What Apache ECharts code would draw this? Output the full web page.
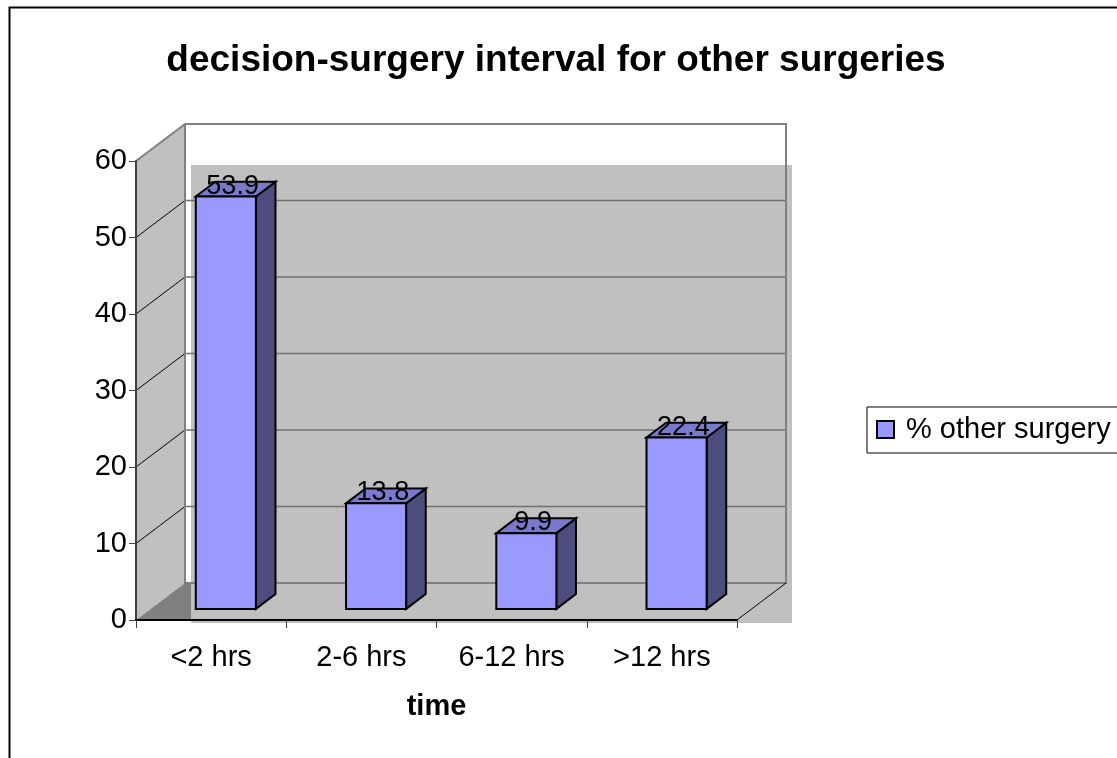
<!DOCTYPE html>
<html>
<head>
<meta charset="utf-8">
<script src="https://cdn.jsdelivr.net/npm/echarts@6/dist/echarts.min.js"></script>
<style>
  html, body { margin: 0; padding: 0; background: #fff; }
  #chart { width: 1117px; height: 758px; }
</style>
</head>
<body>
<div id="chart"></div>
<script>
// ---- data ----
const titleText = 'decision-surgery interval for other surgeries';
const categories = ['<2 hrs', '2-6 hrs', '6-12 hrs', '>12 hrs'];
const seriesName = '% other surgery';
const values = [53.9, 13.8, 9.9, 22.4];
const yMin = 0, yMax = 60, yInterval = 10;
const xAxisName = 'time';

// ---- style constants (3D look) ----
const FONT = "'Liberation Sans', Arial, sans-serif";
const DEPTH = [49, -37];       // oblique depth vector, px
const F1 = 0.30, F2 = 0.70;    // bar front/back depth fractions
const BAR_FRAC = 0.4;          // bar width as fraction of band
const FRONT = '#9999ff', TOPC = '#7a7acc', SIDE = '#4d4d80';

const chart = echarts.init(document.getElementById('chart'), null, { renderer: 'canvas' });

function renderWalls(params, api) {
  const bw = api.size([1, 0])[0];
  const p0 = api.coord([0, yMin]);
  const p3 = api.coord([categories.length - 1, yMin]);
  const x0 = p0[0] - bw / 2, x1 = p3[0] + bw / 2;
  const yB = p0[1], yT = api.coord([0, yMax])[1];
  const dx = DEPTH[0], dy = DEPTH[1];
  const ch = [];
  // side wall
  ch.push({ type: 'polygon', shape: { points: [[x0, yB], [x0, yT], [x0 + dx, yT + dy], [x0 + dx, yB + dy]] },
    style: { fill: '#c0c0c0', stroke: null } });
  // back wall
  ch.push({ type: 'rect', shape: { x: x0 + dx, y: yT + dy, width: x1 - x0, height: yB - yT },
    style: { fill: '#ffffff', stroke: null } });
  // floor
  ch.push({ type: 'polygon', shape: { points: [[x0, yB], [x1, yB], [x1 + dx, yB + dy], [x0 + dx, yB + dy]] },
    style: { fill: '#808080', stroke: null } });
  // plot-area fill (offset, as in the original)
  ch.push({ type: 'rect', shape: { x: x0 + dx + 6, y: yT + 4, width: x1 - x0, height: yB - yT - 1 },
    style: { fill: '#c0c0c0', stroke: null } });
  // back wall gridlines and side wall gridlines
  for (let v = yMin + yInterval; v < yMax; v += yInterval) {
    const y = api.coord([0, v])[1];
    ch.push({ type: 'line', shape: { x1: x0 + dx, y1: y + dy, x2: x1 + dx, y2: y + dy },
      style: { stroke: '#707070', lineWidth: 1.5 } });
    ch.push({ type: 'line', shape: { x1: x0, y1: y, x2: x0 + dx, y2: y + dy },
      style: { stroke: '#000', lineWidth: 1 } });
  }
  // back wall outline
  ch.push({ type: 'rect', shape: { x: x0 + dx, y: yT + dy, width: x1 - x0, height: yB - yT },
    style: { fill: null, stroke: '#808080', lineWidth: 2 } });
  // side wall top edge
  ch.push({ type: 'line', shape: { x1: x0, y1: yT, x2: x0 + dx, y2: yT + dy },
    style: { stroke: '#808080', lineWidth: 2 } });
  // floor right diagonal
  ch.push({ type: 'line', shape: { x1: x1, y1: yB, x2: x1 + dx, y2: yB + dy },
    style: { stroke: '#000', lineWidth: 1 } });
  return { type: 'group', children: ch };
}

function renderBar(params, api) {
  const ci = api.value(0), v = api.value(1);
  const bw = api.size([1, 0])[0];
  const b = api.coord([ci, yMin]), t = api.coord([ci, v]);
  const half = bw * BAR_FRAC / 2;
  const ox1 = DEPTH[0] * F1, oy1 = DEPTH[1] * F1;
  const ddx = DEPTH[0] * (F2 - F1), ddy = DEPTH[1] * (F2 - F1);
  const L = b[0] - half + ox1, R = b[0] + half + ox1, T = t[1] + oy1, B = b[1] + oy1;
  const edge = { stroke: '#000', lineWidth: 2, lineJoin: 'miter' };
  return {
    type: 'group',
    children: [
      { type: 'polygon', shape: { points: [[R, T], [R + ddx, T + ddy], [R + ddx, B + ddy], [R, B]] },
        style: Object.assign({ fill: SIDE }, edge) },
      { type: 'polygon', shape: { points: [[L, T], [R, T], [R + ddx, T + ddy], [L + ddx, T + ddy]] },
        style: Object.assign({ fill: TOPC }, edge) },
      { type: 'rect', shape: { x: L, y: T, width: R - L, height: B - T },
        style: Object.assign({ fill: FRONT }, edge) },
      { type: 'text', x: (L + R) / 2 + ddx / 2 - 3, y: T + ddy / 2 - 3,
        style: { text: String(v), fill: '#000', font: '27px ' + FONT, textAlign: 'center', textVerticalAlign: 'middle' } }
    ]
  };
}

const option = {
  backgroundColor: '#ffffff',
  animation: false,
  title: {
    text: titleText, left: 551, top: 37, textAlign: 'center',
    textStyle: { fontFamily: FONT, fontSize: 37, fontWeight: 'bold', color: '#000' }
  },
  legend: {
    left: 867, top: 407, orient: 'vertical',
    padding: [8, 8, 9, 9],
    borderColor: '#000', borderWidth: 1,
    itemWidth: 17, itemHeight: 17,
    textStyle: { fontFamily: FONT, fontSize: 29, color: '#000', padding: [0, 0, 0, 7] },
    data: [{ name: seriesName, icon: 'rect', itemStyle: { color: FRONT, borderColor: '#000', borderWidth: 2 } }]
  },
  graphic: [{
    type: 'rect', left: 7, top: 5, silent: true,
    shape: { x: 0, y: 0, width: 1300, height: 900 },
    style: { fill: null, stroke: '#000', lineWidth: 2 }
  }],
  grid: { left: 136, top: 161, width: 601, height: 459, containLabel: false },
  xAxis: {
    type: 'category', data: categories, boundaryGap: true,
    axisLine: { show: true, lineStyle: { color: '#000', width: 2 } },
    axisTick: { show: true, length: 8, alignWithLabel: false, lineStyle: { color: '#404040', width: 1 } },
    axisLabel: { margin: 23, fontFamily: FONT, fontSize: 29, color: '#000' },
    name: xAxisName, nameLocation: 'middle', nameGap: 72,
    nameTextStyle: { fontFamily: FONT, fontSize: 29, fontWeight: 'bold', color: '#000' },
    z: 10
  },
  yAxis: {
    type: 'value', min: yMin, max: yMax, interval: yInterval,
    axisLine: { show: true, lineStyle: { color: '#404040', width: 2 } },
    axisTick: { show: true, length: 7, lineStyle: { color: '#404040', width: 1 } },
    axisLabel: { margin: 9, fontFamily: FONT, fontSize: 29, color: '#000', padding: [3, 0, 0, 0] },
    splitLine: { show: false },
    z: 10
  },
  series: [
    { type: 'custom', name: '_walls', renderItem: renderWalls, data: [[0, 0]], silent: true, z: 1, clip: false, tooltip: { show: false } },
    { type: 'custom', name: seriesName, renderItem: renderBar, itemStyle: { color: FRONT },
      data: values.map((v, i) => [i, v]), z: 3, clip: false }
  ]
};
chart.setOption(option);
</script>
</body>
</html>
